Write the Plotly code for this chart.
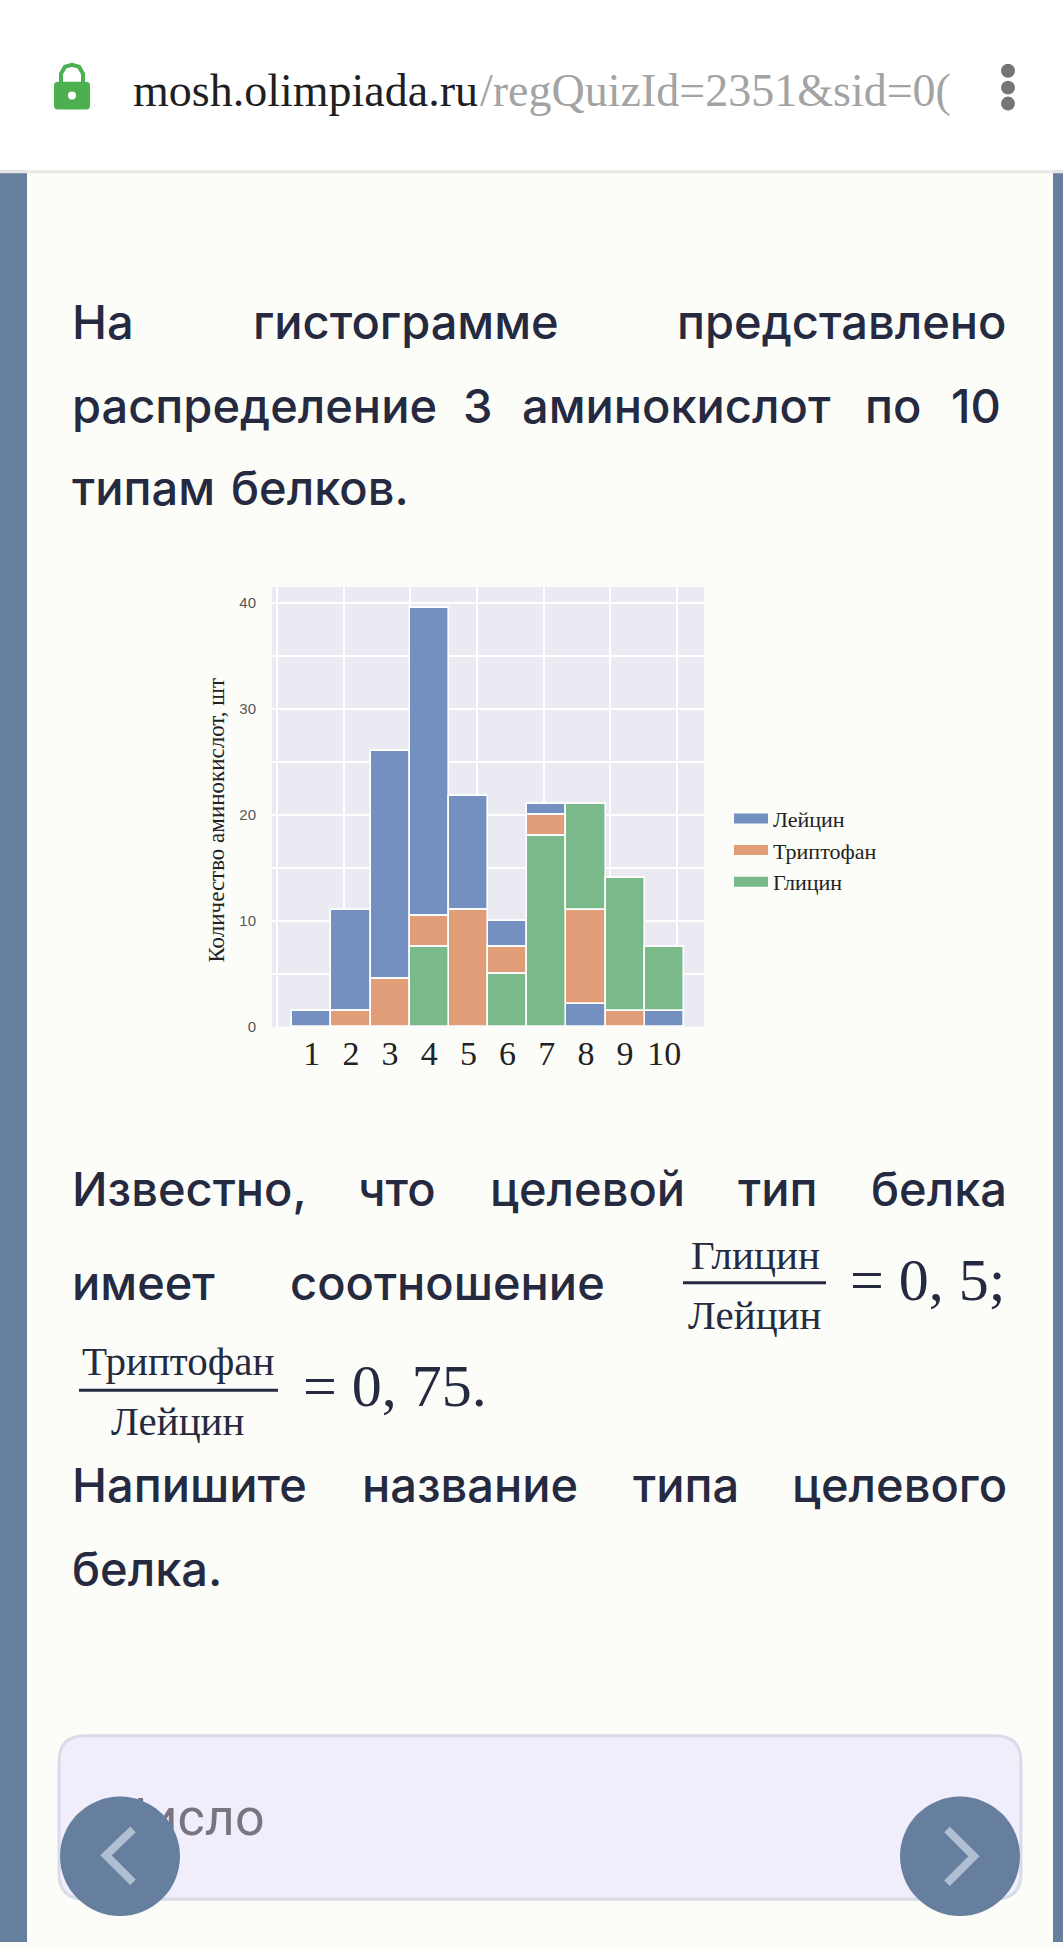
import plotly.graph_objects as go

W, H = 1063, 1950
# ---- data ----
types = [1, 2, 3, 4, 5, 6, 7, 8, 9, 10]
leucine = [1.5, 9.5, 21.5, 29.0, 10.8, 2.5, 1.0, 2.2, None, 1.5]
tryptophan = [None, 1.5, 4.5, 3.0, 11.0, 2.5, 2.0, 8.8, 1.5, None]
glycine = [None, None, None, 7.5, None, 5.0, 18.0, 10.0, 12.5, 6.0]
# which amino acid sits at the bottom of the stack in each bar (L, T, G)
stack_order = ["LTG", "TLG", "TLG", "GTL", "TLG", "GTL", "GTL", "LTG", "TGL", "LGT"]
series_names = {"L": "Лейцин", "T": "Триптофан", "G": "Глицин"}
y_ticks = [0, 10, 20, 30, 40]
y_grid = [0, 5, 10, 15, 20, 25, 30, 35, 40]
x_grid = [0.125, 1.823, 3.52, 5.22, 6.92, 8.62, 10.32]

colors = {"L": "#7390C1", "T": "#E09D78", "G": "#7AB98A"}
values = {"L": leucine, "T": tryptophan, "G": glycine}

def px(x):
    return x / W

def py(y):
    return 1 - y / H

# stacking per bar
bases = {k: [0.0] * len(types) for k in values}
for i, order in enumerate(stack_order):
    total = 0.0
    for k in order:
        bases[k][i] = total
        total += values[k][i] or 0.0

fig = go.Figure()
for k in "LTG":
    fig.add_trace(go.Bar(
        x=types, y=values[k], base=bases[k], width=1, name=series_names[k], showlegend=False,
        marker=dict(color=colors[k], line=dict(color="white", width=1.6)),
    ))
for k in "LTG":
    fig.add_trace(go.Scatter(
        x=[None], y=[None], mode="lines", name=series_names[k],
        line=dict(color=colors[k], width=10),
    ))

# ---- page text ----
TEXT = "#252A40"
BODY = dict(family="Inter", size=47, color=TEXT, weight=500)
SERIF = "Liberation Serif"
words = [
    ("На", 73, 323), ("гистограмме", 254, 323), ("представлено", 678, 323),
    ("распределение", 73, 407), ("3", 464, 407), ("аминокислот", 523, 407), ("по", 866, 407), ("10", 952, 407),
    ("типам", 73, 490), ("белков.", 232, 490),
    ("Известно,", 73, 1193), ("что", 359, 1193), ("целевой", 491, 1193), ("тип", 739, 1193), ("белка", 872, 1193),
    ("имеет", 73, 1288), ("соотношение", 291, 1288),
    ("Напишите", 73, 1491), ("название", 363, 1491), ("типа", 634, 1491), ("целевого", 793, 1491),
    ("белка.", 73, 1575),
]
ann = []
for t, x, y in words:
    ann.append(dict(text=t, x=px(x - 3), y=py(y), xref="paper", yref="paper", xanchor="left", yanchor="middle",
                    showarrow=False, font=BODY))

def serif_note(t, x, y, size, anchor="center", color=TEXT):
    ann.append(dict(text=t, x=px(x), y=py(y), xref="paper", yref="paper", xanchor=anchor, yanchor="middle",
                    showarrow=False, font=dict(family=SERIF, size=size, color=color)))

serif_note("Глицин", 755, 1260, 41)
serif_note("Лейцин", 755, 1320, 41)
serif_note("= 0, 5;", 848, 1285, 60, "left")
serif_note("Триптофан", 178, 1367, 41)
serif_note("Лейцин", 178, 1427, 41)
serif_note("= 0, 75.", 301, 1392, 60, "left")
serif_note("mosh.olimpiada.ru", 131, 91, 46, "left", "#1f1f1f")
serif_note("/regQuizId=2351&sid=0(", 478, 91, 46, "left", "#A3A3A3")

ann.append(dict(text="Количество аминокислот, шт", x=px(217), y=py(824), xref="paper", yref="paper",
                textangle=-90, showarrow=False, xanchor="center", yanchor="middle",
                font=dict(family=SERIF, size=23, color="#222222")))

# ---- page decoration ----
def rect(x0, y0, x1, y1, fill, layer="below", line=None):
    return dict(type="rect", xref="paper", yref="paper", x0=px(x0), x1=px(x1), y0=py(y0), y1=py(y1),
                fillcolor=fill, line=line or dict(width=0), layer=layer)

def circle(cx, cy, r, fill, layer="above"):
    return dict(type="circle", xref="paper", yref="paper", x0=px(cx - r), x1=px(cx + r), y0=py(cy - r), y1=py(cy + r),
                fillcolor=fill, line=dict(width=0), layer=layer)

def path(points, color, width, layer="above", fill=None, closed=False):
    d = "M" + " L".join(f"{px(x):.5f},{py(y):.5f}" for x, y in points) + (" Z" if closed else "")
    return dict(type="path", xref="paper", yref="paper", path=d, layer=layer,
                line=dict(color=color, width=width), fillcolor=fill)

def rounded(x0, y0, x1, y1, r):
    pts = (f"M{px(x0 + r):.5f},{py(y0):.5f} L{px(x1 - r):.5f},{py(y0):.5f} "
           f"Q{px(x1):.5f},{py(y0):.5f} {px(x1):.5f},{py(y0 + r):.5f} L{px(x1):.5f},{py(y1 - r):.5f} "
           f"Q{px(x1):.5f},{py(y1):.5f} {px(x1 - r):.5f},{py(y1):.5f} L{px(x0 + r):.5f},{py(y1):.5f} "
           f"Q{px(x0):.5f},{py(y1):.5f} {px(x0):.5f},{py(y1 - r):.5f} L{px(x0):.5f},{py(y0 + r):.5f} "
           f"Q{px(x0):.5f},{py(y0):.5f} {px(x0 + r):.5f},{py(y0):.5f} Z")
    return pts

BLUE = "#667F9F"
GREEN = "#4CAF50"
CHEV = "#B0BFD2"
shapes = [
    rect(0, 0, W, H, "#FCFDF9"),
    rect(0, 171, 27, H, BLUE),
    rect(1053, 171, W, H, BLUE),
    rect(0, 171, W, 174, "#E6E6E4"),
    rect(0, 0, W, 171, "#FFFFFF"),
    # input box
    dict(type="path", xref="paper", yref="paper", path=rounded(59, 1743, 1021, 1907, 26), layer="below",
         fillcolor="#F0EEFB", line=dict(color="#D9DCE8", width=3)),
    # chart background, tied to the chart's own axis domain
    dict(type="rect", xref="x domain", yref="y domain", x0=0, x1=1, y0=0, y1=1, layer="below",
         fillcolor="#EAEAF2", line=dict(width=0)),
    # fraction bars
    path([(683, 1288), (826, 1288)], TEXT, 3),
    path([(79, 1396), (278, 1396)], TEXT, 3),
    # browser lock
    dict(type="path", xref="paper", yref="paper", path=rounded(54, 82, 90, 110, 4), layer="above",
         fillcolor=GREEN, line=dict(width=0)),
    path([(61, 84), (61, 74), (65, 67), (72, 65), (79, 67), (83, 74), (83, 84)], GREEN, 4),
    circle(72, 96, 4, "#FFFFFF"),
    # browser menu dots
    circle(1008, 71, 7, "#757575"),
    circle(1008, 88, 7, "#757575"),
    circle(1008, 104, 7, "#757575"),
    # round navigation buttons
    circle(120, 1864, 60, BLUE),
    circle(960, 1864, 60, BLUE),
    path([(133, 1837), (106, 1863), (133, 1890)], CHEV, 8),
    path([(947, 1837), (974, 1864), (947, 1891)], CHEV, 8),
]

# input placeholder lives on a whole-page axis pair so that the round button covers it
fig.add_trace(go.Scatter(
    x=[112], y=[1830], xaxis="x3", yaxis="y3", mode="text", text=["Число"], textposition="middle right",
    showlegend=False, hoverinfo="skip", cliponaxis=False,
    textfont=dict(family="Roboto", size=52, color="#787580"),
))

fig.update_layout(
    width=W, height=H, margin=dict(l=0, r=0, t=0, b=0), autosize=False,
    paper_bgcolor="#FCFDF9", plot_bgcolor="rgba(0,0,0,0)", barmode="overlay", showlegend=True,
    xaxis=dict(domain=[px(272), px(704)], range=[-0.015, 11.015], tickmode="array", tickvals=types,
               ticktext=[str(t) for t in types], showgrid=False, zeroline=False, ticks="", ticklabelstandoff=3,
               tickfont=dict(family=SERIF, size=34, color="#222222"),
               minor=dict(tickmode="array", tickvals=x_grid, showgrid=True, gridcolor="white", gridwidth=2, ticks="")),
    yaxis=dict(domain=[py(1031), py(589.3)], range=[0, 41.48], tickmode="array", tickvals=y_ticks,
               gridcolor="white", gridwidth=2, zeroline=False, ticks="", ticklabelstandoff=15,
               tickfont=dict(family="Liberation Sans Narrow, Liberation Sans", size=15, color="#555555"),
               minor=dict(tickmode="array", tickvals=y_grid, showgrid=True, gridcolor="white", gridwidth=2, ticks="")),
    xaxis3=dict(domain=[0, 1], range=[0, W], visible=False, anchor="y3", fixedrange=True),
    yaxis3=dict(domain=[0, 1], range=[H, 0], visible=False, anchor="x3", fixedrange=True),
    legend=dict(x=px(729), y=py(801), xanchor="left", yanchor="top", bgcolor="rgba(0,0,0,0)", itemwidth=34,
                font=dict(family=SERIF, size=22, color="#222222"), traceorder="normal", itemclick=False,
                itemdoubleclick=False),
    shapes=shapes, annotations=ann, bargap=0,
)

fig.write_html("out.html", config=dict(displayModeBar=False),
               post_script="document.body.style.margin='0';document.body.style.overflow='hidden';")
